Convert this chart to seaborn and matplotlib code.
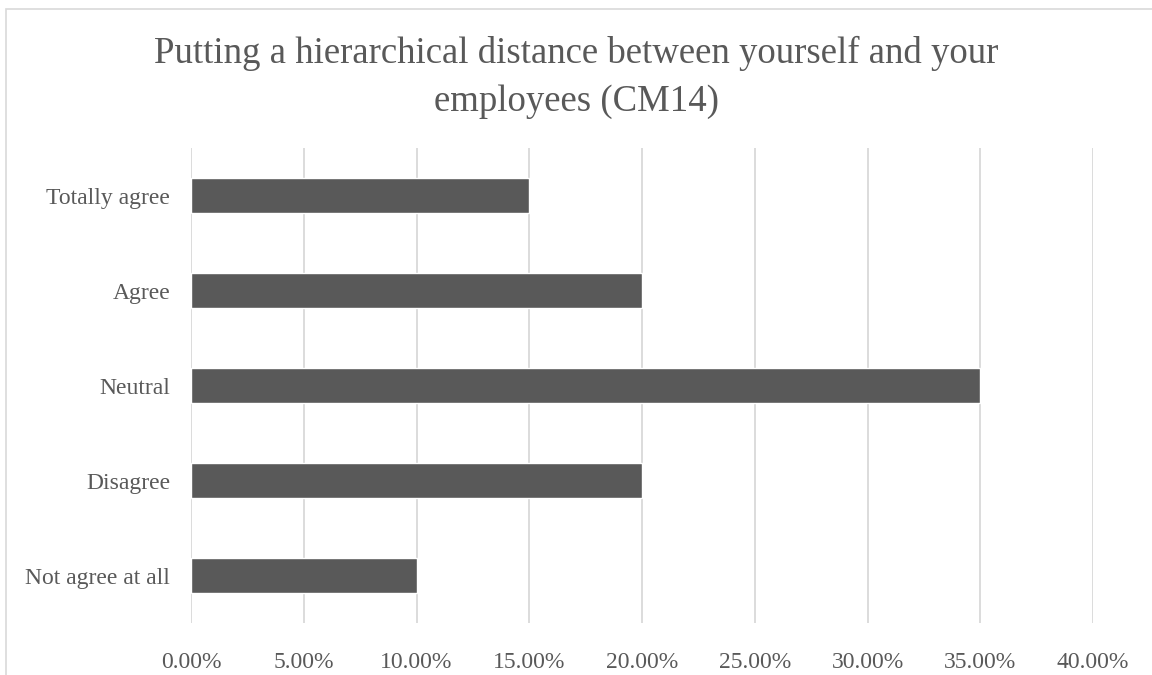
import matplotlib
matplotlib.use("Agg")
import matplotlib.pyplot as plt
import seaborn as sns
import pandas as pd
from matplotlib.ticker import PercentFormatter
from matplotlib.patches import Rectangle

categories = ["Totally agree", "Agree", "Neutral", "Disagree", "Not agree at all"]
shares = [15.0, 20.0, 35.0, 20.0, 10.0]
title = "Putting a hierarchical distance between yourself and your\nemployees (CM14)"

df = pd.DataFrame({"answer": categories, "share": shares})

sns.set_style("white")
plt.rcParams["font.family"] = ["Liberation Serif", "DejaVu Serif"]

fig = plt.figure(figsize=(11.52, 6.75), dpi=100)
ax = fig.add_axes([0.1658, 0.077, 0.783, 0.7036])

sns.barplot(data=df, x="share", y="answer", color="#595959", saturation=1,
            width=0.36, orient="h", ax=ax)

ax.set_xlim(0, 40)
ax.set_xticks([0, 5, 10, 15, 20, 25, 30, 35, 40])
ax.xaxis.set_major_formatter(PercentFormatter(decimals=2))
ax.grid(axis="x", color="#d9d9d9", linewidth=1.3)
ax.set_axisbelow(True)
for s in ax.spines.values():
    s.set_visible(False)
ax.set_xlabel("")
ax.set_ylabel("")
ax.tick_params(axis="both", length=0, labelsize=17, labelcolor="#595959")
ax.tick_params(axis="x", pad=21)
ax.tick_params(axis="y", pad=15)

fig.text(0.5, 0.885, title, ha="center", va="center", fontsize=26.5,
         color="#595959", linespacing=1.5)

fig.patches.append(Rectangle((6 / 1152, -0.1), 1.2, 1 - 9 / 675 + 0.1,
                             transform=fig.transFigure, fill=False,
                             edgecolor="#d9d9d9", linewidth=1.2))

fig.savefig("out.png", dpi=100)
